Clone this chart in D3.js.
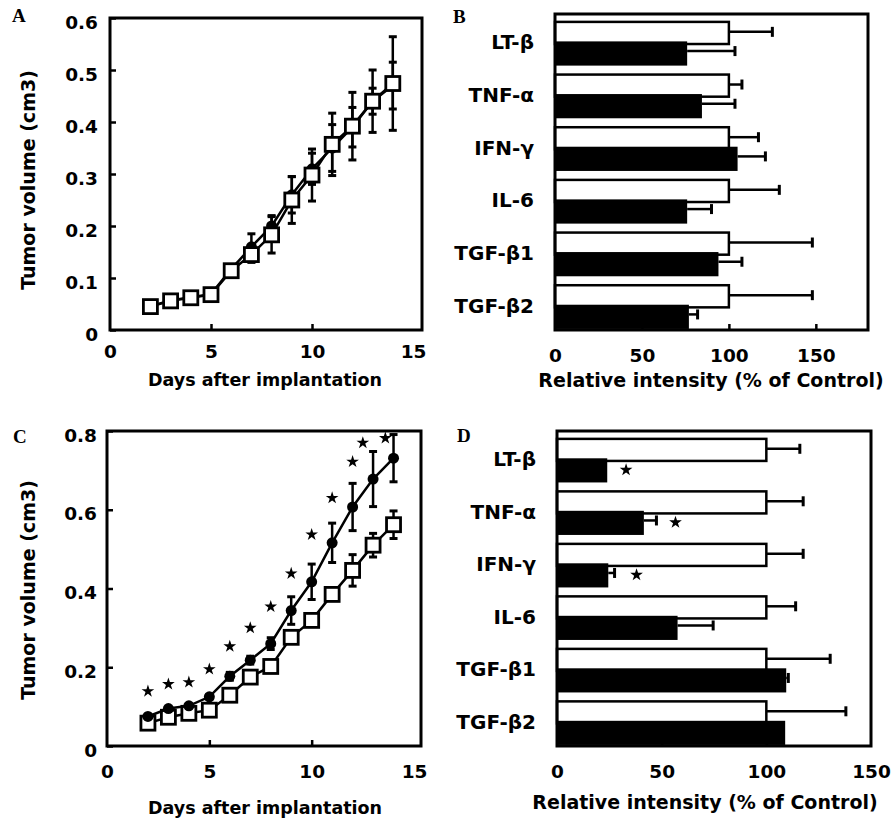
<!DOCTYPE html>
<html>
<head>
<meta charset="utf-8">
<script src="https://cdn.jsdelivr.net/npm/d3@7"></script>
<style>
    body { margin: 0; background: #fff; }
    svg text { font-family: "DejaVu Sans", sans-serif; font-weight: bold; fill: #000; }
    svg text.letter { font-family: "Liberation Serif", serif; font-size: 19px; }
</style>
</head>
<body>
<svg id="fig" width="892" height="825"></svg>
<script>
// ---- data ----
const days = [2, 3, 4, 5, 6, 7, 8, 9, 10, 11, 12, 13, 14];

// panel A (tumor growth, experiment 1)
const aControl = [0.045, 0.056, 0.062, 0.068, 0.114, 0.145, 0.183, 0.25, 0.298, 0.357, 0.392, 0.44, 0.474];
const aControlErr = [0, 0, 0, 0, 0.008, 0.015, 0.035, 0.045, 0.05, 0.06, 0.065, 0.06, 0.09];
const aTreated = [0.046, 0.057, 0.063, 0.069, 0.117, 0.16, 0.2, 0.26, 0.31, 0.35, 0.39, 0.44, 0.47];
const aTreatedErr = [0, 0, 0, 0, 0.008, 0.025, 0.02, 0.035, 0.03, 0.045, 0.038, 0.025, 0.045];

// panel C (tumor growth, experiment 2)
const cControl = [0.058, 0.073, 0.083, 0.091, 0.129, 0.175, 0.202, 0.276, 0.319, 0.385, 0.446, 0.51, 0.562];
const cControlErr = [0, 0, 0, 0, 0, 0, 0, 0, 0, 0.01, 0.04, 0.03, 0.035];
const cTreated = [0.075, 0.095, 0.102, 0.125, 0.177, 0.218, 0.26, 0.344, 0.417, 0.516, 0.607, 0.678, 0.731];
const cTreatedErr = [0, 0, 0, 0.005, 0.01, 0.01, 0.015, 0.035, 0.045, 0.05, 0.06, 0.07, 0.06];
const cStarDays = [2, 3, 4, 5, 6, 7, 8, 9, 10, 11, 12, 12.5, 13.6];
const cStarVals = [0.139, 0.157, 0.162, 0.195, 0.253, 0.3, 0.354, 0.438, 0.537, 0.63, 0.722, 0.77, 0.782];

// panels B and D (cytokine mRNA)
const cytokines = ["LT-β", "TNF-α", "IFN-γ", "IL-6", "TGF-β1", "TGF-β2"];
const bControl = [100, 100, 100, 100, 100, 100];
const bControlErr = [25, 7.5, 17, 29, 48, 48];
const bTreated = [76, 84.5, 105, 76, 94, 77];
const bTreatedErr = [27.5, 19, 16, 14, 13.5, 5];

const dControl = [100, 100, 100, 100, 100, 100];
const dControlErr = [16, 17.6, 17.6, 14, 30.5, 38];
const dTreated = [24, 41.5, 24.5, 57.6, 109.5, 109];
const dTreatedErr = [0, 6, 3, 17, 1, 0];
const dStarVals = [33, 56.6, 38];   // LT-β, TNF-α, IFN-γ

const svg = d3.select("#fig");

function frame(box) {
    svg.append("rect")
        .attr("x", box.x0).attr("y", box.y0)
        .attr("width", box.x1 - box.x0).attr("height", box.y1 - box.y0)
        .attr("fill", "none").attr("stroke", "#000").attr("stroke-width", 3);
}

function letter(txt, x, y) {
    svg.append("text").attr("class", "letter").attr("x", x).attr("y", y).text(txt);
}

// ---- growth curve panels ----
function growthPanel(opt) {
    const box = opt.box;
    const x = d3.scaleLinear().domain([0, 15]).range(opt.xRange);
    const y = d3.scaleLinear().domain([0, opt.yMax]).range([box.y1, box.y0]);

    const yAxis = svg.append("g")
        .attr("transform", "translate(" + box.x0 + ",0)")
        .call(d3.axisLeft(y).tickValues(opt.yTicks).tickSize(-6).tickPadding(opt.yPad)
            .tickFormat(d => d === 0 ? "0" : d3.format(".1f")(d)));
    yAxis.select(".domain").remove();
    yAxis.selectAll("line").attr("stroke-width", 2.5);
    yAxis.selectAll("text").attr("font-size", 18.5).attr("dy", "0.55em");

    const xAxis = svg.append("g")
        .attr("transform", "translate(0," + box.y1 + ")")
        .call(d3.axisBottom(x).tickValues([0, 5, 10, 15]).tickSize(-6).tickPadding(opt.xPad));
    xAxis.select(".domain").remove();
    xAxis.selectAll(".tick").filter(d => d === 0 || d === 15).select("line").remove();
    xAxis.selectAll("line").attr("stroke-width", 2.5);
    xAxis.selectAll("text").attr("font-size", 18.5);

    frame(box);

    const line = d3.line().x((d, i) => x(days[i])).y(d => y(d));

    opt.series.forEach(s => {
        const g = svg.append("g");
        // error bars
        const eb = g.selectAll("g.err").data(s.values.map((v, i) => ({ v: v, e: s.err[i], d: days[i] })))
            .enter().append("g").filter(d => d.e > 0);
        eb.append("line")
            .attr("x1", d => x(d.d)).attr("x2", d => x(d.d))
            .attr("y1", d => y(d.v - d.e)).attr("y2", d => y(d.v + d.e))
            .attr("stroke", "#000").attr("stroke-width", 2.5);
        [-1, 1].forEach(k => {
            eb.append("line")
                .attr("x1", d => x(d.d) - 4).attr("x2", d => x(d.d) + 4)
                .attr("y1", d => y(d.v + k * d.e)).attr("y2", d => y(d.v + k * d.e))
                .attr("stroke", "#000").attr("stroke-width", 3);
        });
        g.append("path").datum(s.values).attr("d", line)
            .attr("fill", "none").attr("stroke", "#000").attr("stroke-width", 2.5);
        if (s.marker === "square") {
            g.selectAll("rect.m").data(s.values).enter().append("rect")
                .attr("x", (d, i) => x(days[i]) - 7).attr("y", d => y(d) - 7)
                .attr("width", 14).attr("height", 14)
                .attr("fill", "#fff").attr("stroke", "#000").attr("stroke-width", 2.8);
        } else {
            g.selectAll("circle.m").data(s.values).enter().append("circle")
                .attr("cx", (d, i) => x(days[i])).attr("cy", d => y(d)).attr("r", 5.5)
                .attr("fill", "#000");
        }
    });

    if (opt.stars) {
        svg.selectAll(null).data(opt.stars.vals).enter().append("path")
            .attr("d", d3.symbol(d3.symbolStar, 50))
            .attr("transform", (d, i) => "translate(" + x(opt.stars.days[i]) + "," + y(d) + ")")
            .attr("fill", "#000");
    }

    svg.append("text").attr("text-anchor", "middle")
        .attr("x", opt.xTitle[0]).attr("y", opt.xTitle[1]).attr("font-size", 17.5)
        .text("Days after implantation");
    svg.append("text").attr("text-anchor", "middle").attr("font-size", 19)
        .attr("transform", "translate(" + opt.yTitle[0] + "," + opt.yTitle[1] + ") rotate(-90)")
        .text("Tumor volume (cm3)");
}

// ---- cytokine bar panels ----
function barPanel(opt) {
    const box = opt.box;
    const x = d3.scaleLinear().domain([0, opt.xMax]).range([box.x0, opt.xEnd]);
    const y = d3.scaleBand().domain(cytokines).range([box.y0, box.y1]);
    const bw = y.bandwidth();

    const xAxis = svg.append("g")
        .attr("transform", "translate(0," + box.y1 + ")")
        .call(d3.axisBottom(x).tickValues([0, 50, 100, 150]).tickSize(-6).tickPadding(19));
    xAxis.select(".domain").remove();
    xAxis.selectAll(".tick").filter(d => opt.noTick.includes(d)).select("line").remove();
    xAxis.selectAll("line").attr("stroke-width", 2.5);
    xAxis.selectAll("text").attr("font-size", 18.5);

    const rows = cytokines.map((c, i) => ({
        c: c, cv: opt.control[i], ce: opt.controlErr[i], tv: opt.treated[i], te: opt.treatedErr[i]
    }));

    // error whiskers drawn first, bars on top
    function whisker(sel, yPos, val, err) {
        const w = sel.filter(d => err(d) > 0);
        w.append("line")
            .attr("x1", d => x(val(d))).attr("x2", d => x(val(d) + err(d)))
            .attr("y1", yPos).attr("y2", yPos)
            .attr("stroke", "#000").attr("stroke-width", 2.5);
        w.append("line")
            .attr("x1", d => x(val(d) + err(d))).attr("x2", d => x(val(d) + err(d)))
            .attr("y1", d => yPos(d) - 5).attr("y2", d => yPos(d) + 5)
            .attr("stroke", "#000").attr("stroke-width", 3);
    }

    const g = svg.append("g").selectAll("g.row").data(rows).enter().append("g");
    whisker(g, d => y(d.c) + bw * 0.15 + bw * 0.42 * 0.45, d => d.cv, d => d.ce);
    whisker(g, d => y(d.c) + bw * 0.52 + bw * 0.46 * 0.4, d => d.tv, d => d.te);

    g.append("rect")
        .attr("x", x(0)).attr("y", d => y(d.c) + bw * 0.15)
        .attr("width", d => x(d.cv) - x(0)).attr("height", bw * 0.42)
        .attr("fill", "#fff").attr("stroke", "#000").attr("stroke-width", 2.5);
    g.append("rect")
        .attr("x", x(0)).attr("y", d => y(d.c) + bw * 0.52)
        .attr("width", d => x(d.tv) - x(0)).attr("height", bw * 0.46)
        .attr("fill", "#000");

    if (opt.stars) {
        svg.selectAll(null).data(opt.stars).enter().append("path")
            .attr("d", d3.symbol(d3.symbolStar, 50))
            .attr("transform", (d, i) => "translate(" + x(d) + "," + (y(cytokines[i]) + bw * 0.74) + ")")
            .attr("fill", "#000");
    }

    frame(box);

    svg.selectAll(null).data(cytokines).enter().append("text")
        .attr("text-anchor", "end").attr("font-size", 20)
        .attr("x", box.x0 - 21).attr("y", d => y(d) + bw / 2 + 2)
        .attr("dy", "0.35em")
        .text(d => d);

    svg.append("text").attr("text-anchor", "middle")
        .attr("x", opt.xTitle[0]).attr("y", opt.xTitle[1]).attr("font-size", 19)
        .text("Relative intensity (% of Control)");
}

growthPanel({
    box: { x0: 110, x1: 422, y0: 18, y1: 330 },
    xRange: [110, 413], yMax: 0.6, yTicks: [0, 0.1, 0.2, 0.3, 0.4, 0.5, 0.6],
    yPad: 12, xPad: 15, xTitle: [265, 386], yTitle: [35, 180],
    series: [
        { values: aTreated, err: aTreatedErr, marker: "circle" },
        { values: aControl, err: aControlErr, marker: "square" }
    ]
});

growthPanel({
    box: { x0: 107, x1: 421, y0: 431, y1: 746 },
    xRange: [107, 414], yMax: 0.8, yTicks: [0, 0.2, 0.4, 0.6, 0.8],
    yPad: 10, xPad: 19, xTitle: [265, 814], yTitle: [35, 590],
    series: [
        { values: cControl, err: cControlErr, marker: "square" },
        { values: cTreated, err: cTreatedErr, marker: "circle" }
    ],
    stars: { days: cStarDays, vals: cStarVals }
});

barPanel({
    box: { x0: 555, x1: 868, y0: 14, y1: 330 },
    xMax: 180, xEnd: 868, noTick: [0],
    control: bControl, controlErr: bControlErr, treated: bTreated, treatedErr: bTreatedErr,
    xTitle: [711, 387]
});

barPanel({
    box: { x0: 557, x1: 871, y0: 431, y1: 746 },
    xMax: 150, xEnd: 871, noTick: [0, 150],
    control: dControl, controlErr: dControlErr, treated: dTreated, treatedErr: dTreatedErr,
    stars: dStarVals,
    xTitle: [705, 809]
});

letter("A", 12, 22);
letter("B", 453, 23);
letter("C", 13, 443);
letter("D", 457, 442);
</script>
</body>
</html>
